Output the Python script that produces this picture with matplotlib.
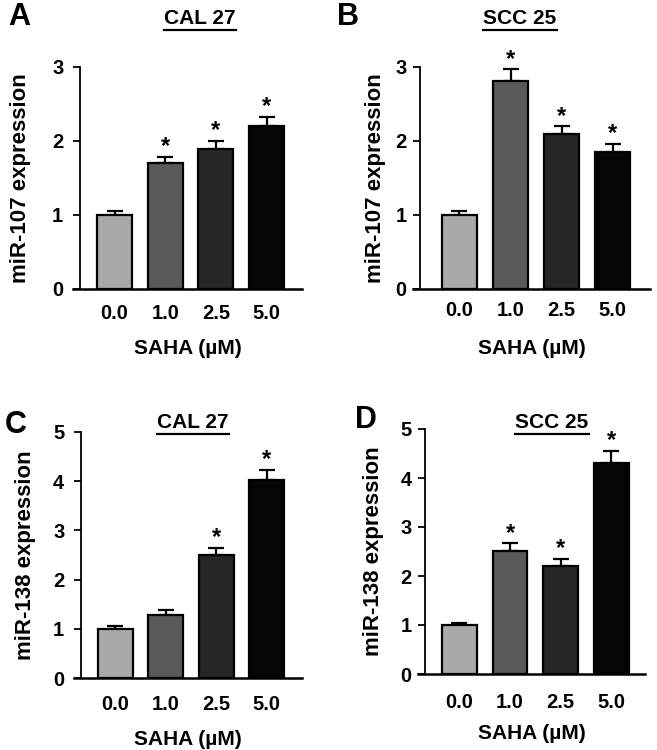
import matplotlib.pyplot as plt

plt.rcParams['font.family'] = ['Liberation Sans', 'DejaVu Sans']
plt.rcParams['font.weight'] = 'bold'

doses = ['0.0', '1.0', '2.5', '5.0']
bar_colors = ['#a9a9a9', '#595959', '#262626', '#050505']

# miR-107
cal27_107 = [1.0, 1.70, 1.89, 2.20]
cal27_107_err = [0.05, 0.09, 0.11, 0.13]
cal27_107_sig = [False, True, True, True]

scc25_107 = [1.0, 2.81, 2.09, 1.85]
scc25_107_err = [0.06, 0.16, 0.11, 0.11]
scc25_107_sig = [False, True, True, True]

# miR-138
cal27_138 = [1.0, 1.29, 2.51, 4.02]
cal27_138_err = [0.05, 0.09, 0.13, 0.21]
cal27_138_sig = [False, False, True, True]

scc25_138 = [1.0, 2.52, 2.21, 4.31]
scc25_138_err = [0.05, 0.15, 0.14, 0.25]
scc25_138_sig = [False, True, True, True]

titles = []


def draw_panel(rect, letter, letter_xy, title, title_xy, values, errs, sig,
               ylabel, ymax, xlim, pads):
    xpad, xlabelpad, ypad, ylabelpad = pads
    ax = fig.add_axes(rect)
    x = list(range(len(values)))
    ax.bar(x, values, width=0.69, color=bar_colors, edgecolor='black',
           linewidth=1.6, zorder=3)
    ax.errorbar(x, values, yerr=[[0] * len(errs), errs], fmt='none',
                ecolor='black', elinewidth=1.6, capsize=6, capthick=1.6,
                zorder=2)
    for xi, v, e, s in zip(x, values, errs, sig):
        if s:
            ax.annotate('*', (xi, v + e), xytext=(0, -1),
                        textcoords='offset points', ha='center', va='bottom',
                        fontsize=17, fontweight='bold')
    ax.set_xlim(*xlim)
    ax.set_ylim(0, ymax)
    ax.set_yticks(range(ymax + 1))
    ax.set_xticks(x)
    ax.set_xticklabels(doses)
    ax.tick_params(axis='x', length=0, pad=xpad, labelsize=14.5)
    ax.tick_params(axis='y', length=5, width=1.3, direction='out',
                   pad=ypad, labelsize=14.5)
    for t in ax.get_xticklabels() + ax.get_yticklabels():
        t.set_fontweight('bold')
    ax.spines['top'].set_visible(False)
    ax.spines['right'].set_visible(False)
    ax.spines['left'].set_linewidth(1.3)
    ax.spines['bottom'].set_linewidth(1.8)
    ax.spines['left'].set_position(('outward', -5))
    ax.set_ylabel(ylabel, fontsize=16, fontweight='bold', labelpad=ylabelpad)
    ax.set_xlabel('SAHA (\u00b5M)', fontsize=15, fontweight='bold',
                  labelpad=xlabelpad)
    fig.text(letter_xy[0], letter_xy[1], letter, fontsize=22,
             fontweight='bold', ha='left', va='center')
    t = fig.text(title_xy[0], title_xy[1], title, fontsize=15,
                 fontweight='bold', ha='center', va='center')
    titles.append(t)
    return ax


fig = plt.figure(figsize=(6.57, 7.5), dpi=100)

draw_panel([73 / 657, 461 / 750, 229 / 657, 222 / 750], 'A', (8 / 657, 1 - 17 / 750),
           'CAL 27', (200 / 657, 1 - 18 / 750), cal27_107, cal27_107_err,
           cal27_107_sig, 'miR-107 expression', 3, (-0.82, 3.70),
           (10.5, 12, 7, 15))
draw_panel([413 / 657, 461 / 750, 237 / 657, 222 / 750], 'B', (337 / 657, 1 - 17 / 750),
           'SCC 25', (520 / 657, 1 - 18 / 750), scc25_107, scc25_107_err,
           scc25_107_sig, 'miR-107 expression', 3, (-0.91, 3.73),
           (8.5, 14, 4.5, 7))
draw_panel([74 / 657, 72 / 750, 228 / 657, 246 / 750], 'C', (5 / 657, 1 - 425 / 750),
           'CAL 27', (193 / 657, 1 - 423 / 750), cal27_138, cal27_138_err,
           cal27_138_sig, 'miR-138 expression', 5, (-0.82, 3.70),
           (12, 12, 7, 12))
draw_panel([418 / 657, 76 / 750, 227 / 657, 245 / 750], 'D', (355 / 657, 1 - 420 / 750),
           'SCC 25', (552 / 657, 1 - 422 / 750), scc25_138, scc25_138_err,
           scc25_138_sig, 'miR-138 expression', 5, (-0.82, 3.67),
           (14, 8, 4.5, 12))

# underline each cell-line title using its rendered width
fig.canvas.draw()
renderer = fig.canvas.get_renderer()
for t in titles:
    bb = t.get_window_extent(renderer).transformed(fig.transFigure.inverted())
    y = bb.y0 - 2 / 750
    fig.add_artist(plt.Line2D([bb.x0, bb.x1], [y, y], color='black',
                              linewidth=1.6))

fig.savefig('out.png', dpi=100)
